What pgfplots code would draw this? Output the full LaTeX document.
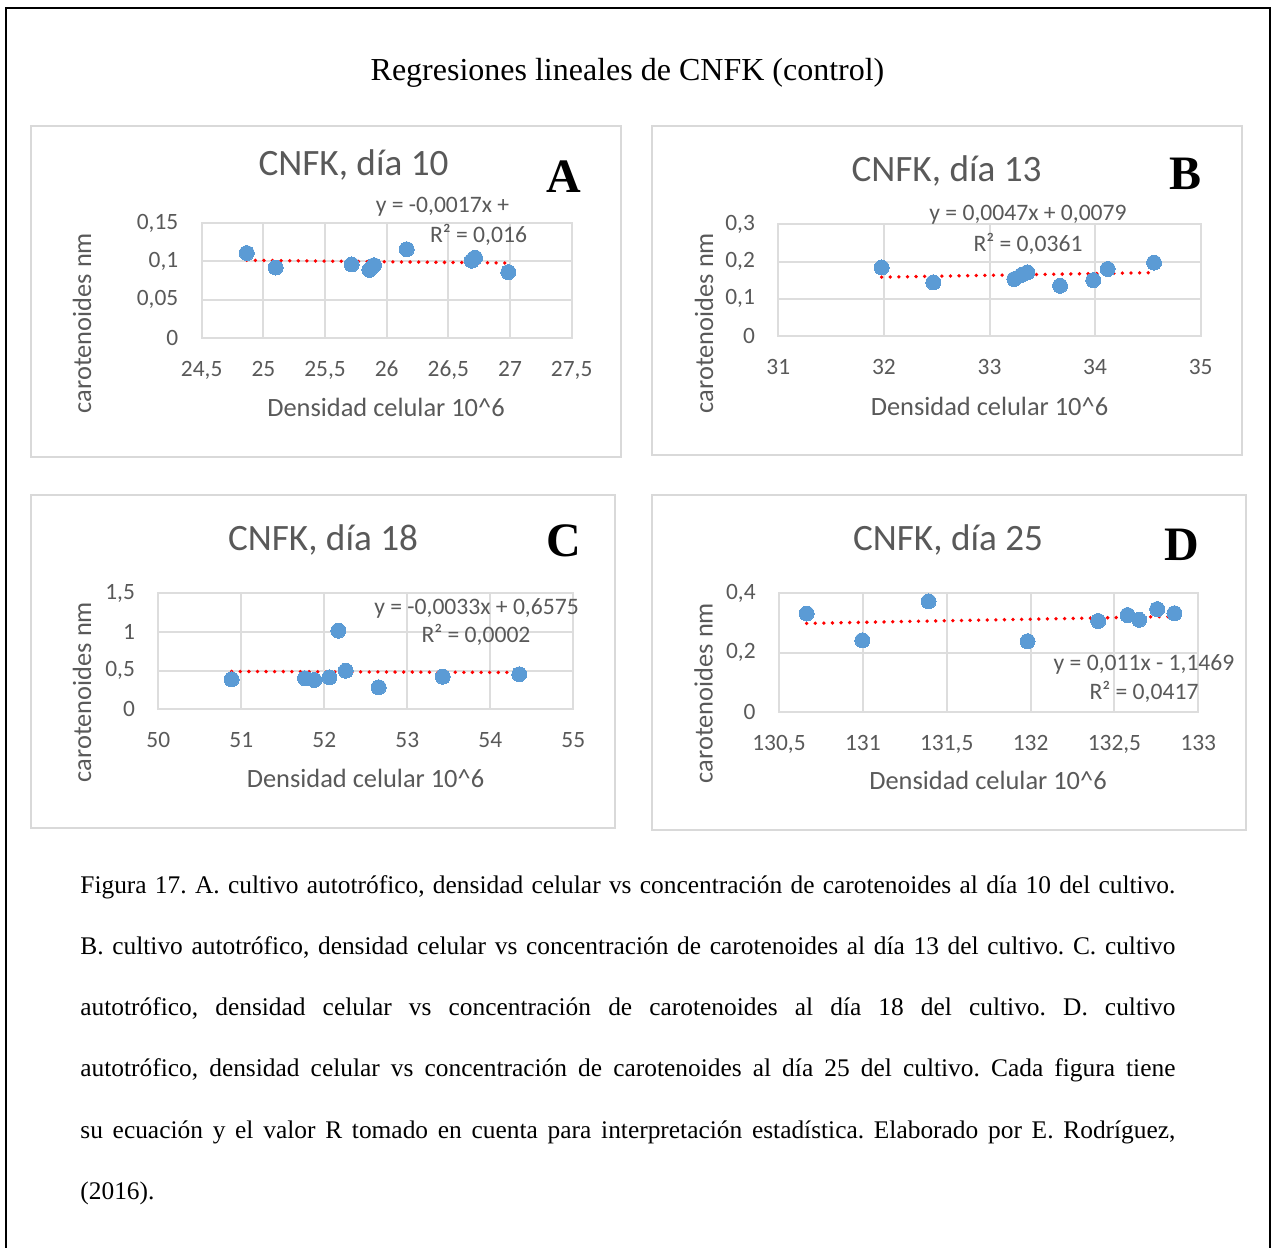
\documentclass[border=0pt]{standalone}
\usepackage{fontspec}
\setmainfont{Liberation Serif}
\newfontfamily\calibri{Carlito}
\usepackage{pgfplots}
\pgfplotsset{compat=1.18}
\definecolor{txtgray}{HTML}{595959}
\definecolor{gridgray}{HTML}{DDDDDD}
\definecolor{dotblue}{HTML}{5B9BD5}
\definecolor{framegray}{HTML}{D9D9D9}
\pgfplotsset{
 panel/.style={
  scale only axis, anchor=south west,
  grid=major, major grid style={draw=gridgray, line width=1pt},
  axis line style={draw=gridgray, line width=1pt},
  major tick length=0pt,
  tick label style={font=\calibri\fontsize{11.7}{14}\selectfont, text=txtgray},
  xticklabel style={anchor=north, inner sep=0pt, yshift=-11.5pt},
  yticklabel style={anchor=east, inner sep=0pt, xshift=-11.5pt},
  clip=false,
 },
 pts/.style={only marks, mark=*, mark size=3.75pt, mark options={fill=dotblue, draw=dotblue, line width=0pt}},
 trend/.style={no marks, draw=red, line width=1.9pt, line cap=round, dash pattern=on 0pt off 4.3pt},
}
\newcommand{\ctitle}{\calibri\fontsize{18.6}{22}\selectfont\color{txtgray}}
\newcommand{\atitle}{\calibri\fontsize{13.2}{16}\selectfont\color{txtgray}}
\newcommand{\eqf}{\calibri\fontsize{11.8}{14}\selectfont\color{txtgray}}
\newcommand{\letf}{\bfseries\fontsize{24}{28}\selectfont}
\newcommand{\capf}{\fontsize{12.7}{14}\selectfont\frenchspacing}
\begin{document}
\begin{tikzpicture}
\begin{scope}[x=0.5pt,y=-0.5pt]
\path[use as bounding box] (0,0) rectangle (1276,1248);
\draw[line width=1.4pt] (6,1250) -- (6,8) -- (1270,8) -- (1270,1250);
\draw[framegray, line width=1pt] (31,126) rectangle (621,457);
\draw[framegray, line width=1pt] (652,126) rectangle (1242,455);
\draw[framegray, line width=1pt] (31,495) rectangle (615,828);
\draw[framegray, line width=1pt] (652,495) rectangle (1246,830);
\end{scope}

% Panel A
\begin{axis}[panel, at={(100.85pt,-168.85pt)}, width=185pt, height=57.2pt,
  xmin=24.5, xmax=27.5, ymin=0, ymax=0.15,
  xtick={24.5,25,25.5,26,26.5,27,27.5}, xticklabels={{24,5},25,{25,5},26,{26,5},27,{27,5}},
  ytick={0,0.05,0.1,0.15}, yticklabels={0,{0,05},{0,1},{0,15}}]
\addplot[pts] coordinates {(24.865,0.111) (25.10,0.092) (25.716,0.096) (25.86,0.089) (25.897,0.095) (26.162,0.116) (26.69,0.101) (26.716,0.105) (26.986,0.086)};
\addplot[trend] coordinates {(24.865,0.1015) (26.986,0.0979)};
\end{axis}

% Panel B
\begin{axis}[panel, at={(389.15pt,-168pt)}, width=211.2pt, height=55.85pt,
  xmin=31, xmax=35, ymin=0, ymax=0.3,
  xtick={31,32,33,34,35}, xticklabels={31,32,33,34,35},
  ytick={0,0.1,0.2,0.3}, yticklabels={0,{0,1},{0,2},{0,3}}]
\addplot[pts] coordinates {(31.979,0.184) (32.468,0.144) (33.235,0.153) (33.305,0.164) (33.358,0.171) (33.668,0.135) (33.983,0.150) (34.119,0.180) (34.558,0.197)};
\addplot[trend] coordinates {(31.979,0.1582) (34.558,0.1703)};
\end{axis}

% Panel C
\begin{axis}[panel, at={(79.15pt,-354.65pt)}, width=207.5pt, height=58pt,
  xmin=50, xmax=55, ymin=0, ymax=1.5,
  xtick={50,51,52,53,54,55}, xticklabels={50,51,52,53,54,55},
  ytick={0,0.5,1,1.5}, yticklabels={0,{0,5},1,{1,5}}]
\addplot[pts] coordinates {(50.884,0.388) (51.767,0.401) (51.880,0.379) (52.061,0.414) (52.169,1.017) (52.258,0.499) (52.655,0.285) (53.427,0.422) (54.349,0.453)};
\addplot[trend] coordinates {(50.884,0.490) (54.349,0.476)};
\end{axis}

% Panel D
\begin{axis}[panel, at={(389.5pt,-356.15pt)}, width=209.65pt, height=59.5pt,
  xmin=130.5, xmax=133, ymin=0, ymax=0.4,
  xtick={130.5,131,131.5,132,132.5,133}, xticklabels={{130,5},131,{131,5},132,{132,5},133},
  ytick={0,0.2,0.4}, yticklabels={0,{0,2},{0,4}}]
\addplot[pts] coordinates {(130.665,0.332) (130.997,0.242) (131.392,0.373) (131.982,0.239) (132.403,0.307) (132.578,0.327) (132.647,0.311) (132.755,0.347) (132.858,0.333)};
\addplot[trend] coordinates {(130.665,0.299) (132.858,0.322)};
\end{axis}

\begin{scope}[x=0.5pt,y=-0.5pt]
\node[anchor=base, font=\fontsize{16}{19}\selectfont, inner sep=0pt] at (627.5,80) {Regresiones lineales de CNFK (control)};
% chart titles
\node[anchor=base, inner sep=0pt, font=\ctitle] at (353.5,175) {CNFK, día 10};
\node[anchor=base, inner sep=0pt, font=\ctitle] at (946.5,181) {CNFK, día 13};
\node[anchor=base, inner sep=0pt, font=\ctitle] at (323,550) {CNFK, día 18};
\node[anchor=base, inner sep=0pt, font=\ctitle] at (948,550) {CNFK, día 25};
% letters
\node[anchor=base, inner sep=0pt, font=\letf] at (564,192) {A};
\node[anchor=base, inner sep=0pt, font=\letf] at (1185,189) {B};
\node[anchor=base, inner sep=0pt, font=\letf] at (564,556) {C};
\node[anchor=base, inner sep=0pt, font=\letf] at (1182,560) {D};
% x axis titles
\node[anchor=base, inner sep=0pt, font=\atitle] at (386,416.7) {Densidad celular 10\^{}6};
\node[anchor=base, inner sep=0pt, font=\atitle] at (989.5,415) {Densidad celular 10\^{}6};
\node[anchor=base, inner sep=0pt, font=\atitle] at (365.5,787.7) {Densidad celular 10\^{}6};
\node[anchor=base, inner sep=0pt, font=\atitle] at (988,789.3) {Densidad celular 10\^{}6};
% y axis titles
\node[anchor=base, rotate=90, inner sep=0pt, font=\atitle] at (91,323) {carotenoides nm};
\node[anchor=base, rotate=90, inner sep=0pt, font=\atitle] at (713,323) {carotenoides nm};
\node[anchor=base, rotate=90, inner sep=0pt, font=\atitle] at (91,692) {carotenoides nm};
\node[anchor=base, rotate=90, inner sep=0pt, font=\atitle] at (712.6,693) {carotenoides nm};
% equations
\node[anchor=base, inner sep=0pt, font=\eqf] at (442.5,212) {y = -0,0017x +};
\node[anchor=base, inner sep=0pt, font=\eqf] at (478.5,242) {R² = 0,016};
\node[anchor=base, inner sep=0pt, font=\eqf] at (1028,220.7) {y = 0,0047x + 0,0079};
\node[anchor=base, inner sep=0pt, font=\eqf] at (1028,251) {R² = 0,0361};
\node[anchor=base, inner sep=0pt, font=\eqf] at (476.5,614.3) {y = -0,0033x + 0,6575};
\node[anchor=base, inner sep=0pt, font=\eqf] at (476,642.3) {R² = 0,0002};
\node[anchor=base, inner sep=0pt, font=\eqf] at (1144,670.7) {y = 0,011x - 1,1469};
\node[anchor=base, inner sep=0pt, font=\eqf] at (1144,699) {R² = 0,0417};
% caption
\node[anchor=base west, inner sep=0pt, font=\capf] at (80,893) {\makebox[547.5pt][s]{Figura 17. A. cultivo autotrófico, densidad celular vs concentración de carotenoides al día 10 del cultivo.}};
\node[anchor=base west, inner sep=0pt, font=\capf] at (80,954.3) {\makebox[547.5pt][s]{B. cultivo autotrófico, densidad celular vs concentración de carotenoides al día 13 del cultivo. C. cultivo}};
\node[anchor=base west, inner sep=0pt, font=\capf] at (80,1015.6) {\makebox[547.5pt][s]{autotrófico, densidad celular vs concentración de carotenoides al día 18 del cultivo. D. cultivo}};
\node[anchor=base west, inner sep=0pt, font=\capf] at (80,1076.9) {\makebox[547.5pt][s]{autotrófico, densidad celular vs concentración de carotenoides al día 25 del cultivo. Cada figura tiene}};
\node[anchor=base west, inner sep=0pt, font=\capf] at (80,1138.2) {\makebox[547.5pt][s]{su ecuación y el valor R tomado en cuenta para interpretación estadística. Elaborado por E. Rodríguez,}};
\node[anchor=base west, inner sep=0pt, font=\capf] at (80,1199.5) {(2016).};
\end{scope}
\end{tikzpicture}
\end{document}
